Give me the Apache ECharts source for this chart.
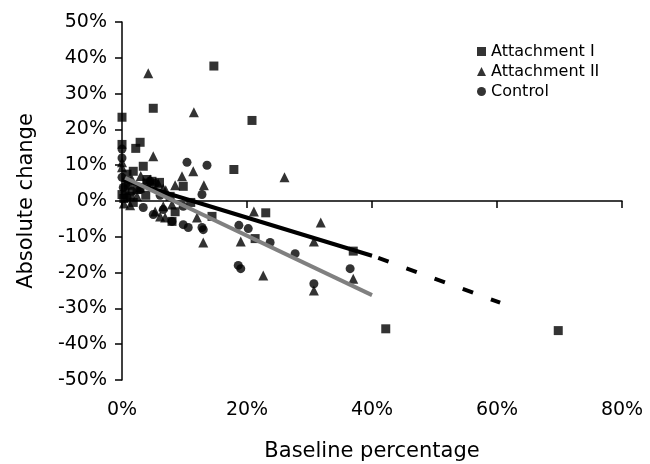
<!DOCTYPE html>
<html>
<head>
<meta charset="utf-8">
<script src="https://cdn.jsdelivr.net/npm/echarts@6/dist/echarts.min.js"></script>
<style>html,body{margin:0;padding:0;background:#fff;}#c{width:650px;height:464px;}</style>
</head>
<body>
<div id="c"></div>
<script>
var seriesNames = ['Attachment I', 'Attachment II', 'Control'];
var xTicks = [0, 20, 40, 60, 80];
var yTicks = [-50, -40, -30, -20, -10, 0, 10, 20, 30, 40, 50];

var attachmentI = [[0,23.4],[5,25.9],[0,15.8],[2.9,16.4],[2.2,14.7],[14.7,37.7],[20.8,22.5],[17.9,8.8],[14.4,-4.3],[23,-3.3],[21.3,-10.5],[37,-14],[42.2,-35.7],[69.8,-36.2],[9.8,4.1],[0.8,7.5],[1.8,8.3],[3.4,9.7],[4,6],[4.8,5.5],[6,5.2],[1,4.4],[2.4,3.2],[0,1.8],[0.3,0.7],[1.3,1.3],[3.8,1.6],[7.7,1.3],[8.5,-3],[1.8,-0.4],[8,-5.7],[11,-0.4],[4,5],[0.5,3]];
var attachmentII = [[4.2,35.7],[5,12.5],[11.5,24.8],[11.4,8.3],[9.6,6.9],[26,6.6],[13.1,4.4],[21.1,-2.9],[31.8,-6],[13,-11.6],[19,-11.3],[30.7,-11.3],[22.6,-20.8],[30.7,-25],[37,-21.7],[0,10.8],[0,9.4],[0.6,5.5],[1.6,6],[2.9,3.8],[4.5,6],[5.8,4.9],[6.6,3.5],[8.5,4.4],[0.3,-0.7],[1.3,-1.2],[2.4,1.3],[5.3,-2.9],[6.1,-4.3],[6.9,-4.6],[8,-1],[12,-4.6],[6.6,-1.5],[3,7],[7,3]];
var control = [[10.4,10.8],[13.6,10],[12.8,1.8],[13,-8],[18.7,-6.8],[20.2,-7.7],[23.7,-11.6],[27.7,-14.7],[18.6,-18],[19,-18.9],[30.7,-23.1],[36.5,-18.9],[0,14.5],[0,6.6],[0.2,3.8],[0.8,1],[2.9,3.2],[4.5,5.5],[5.3,4.9],[6.1,1.6],[3.4,-1.8],[5,-3.8],[6.6,-2.4],[9.8,-1.5],[9.8,-6.6],[10.6,-7.4],[12.8,-7.4],[8,-5.7],[1.6,2.7],[0,12]];

var trendBlack = [[0,6],[40,-15.3]];
var trendBlackExt = [[41,-15.9],[60.5,-28.4]];
var trendGray = [[0.5,6.5],[40,-26.3]];

var FONT = 'DejaVu Sans';
var chart = echarts.init(document.getElementById('c'));
var lineSeries = function (data, color, type) {
  return {type:'line', data:data, symbol:'none', silent:true, z:3,
    lineStyle:{color:color, width:4, type:type, cap:'butt'}};
};
chart.setOption({
  animation:false,
  backgroundColor:'#fff',
  textStyle:{fontFamily:FONT, color:'#000'},
  grid:{left:122, right:28, top:22, bottom:84, containLabel:false, outerBoundsMode:'none'},
  legend:{
    data:seriesNames, orient:'vertical', left:472, top:37, itemGap:1,
    itemWidth:9, itemHeight:9,
    textStyle:{fontFamily:FONT, fontSize:16, color:'#000', lineHeight:19}
  },
  xAxis:[{
    type:'value', min:xTicks[0], max:xTicks[xTicks.length-1], interval:20,
    axisLine:{onZero:true, lineStyle:{color:'#000', width:1.5}},
    axisTick:{show:true, inside:false, length:7, lineStyle:{color:'#000', width:1.5}},
    axisLabel:{show:false}, splitLine:{show:false}
  },{
    type:'value', position:'bottom', min:xTicks[0], max:xTicks[xTicks.length-1], interval:20,
    axisLine:{show:false, onZero:false}, axisTick:{show:false}, splitLine:{show:false},
    axisLabel:{show:true, margin:21, fontSize:19, color:'#000', fontFamily:FONT, formatter:'{value}%'},
    name:'Baseline percentage', nameLocation:'middle', nameGap:61,
    nameTextStyle:{fontSize:21, color:'#000', fontFamily:FONT}
  }],
  yAxis:{
    type:'value', min:yTicks[0], max:yTicks[yTicks.length-1], interval:10,
    axisLine:{show:true, onZero:false, lineStyle:{color:'#000', width:1.5}},
    axisTick:{show:true, length:7, lineStyle:{color:'#000', width:1.5}},
    axisLabel:{margin:15, fontSize:19, color:'#000', fontFamily:FONT, formatter:'{value}%'},
    splitLine:{show:false},
    name:'Absolute change', nameLocation:'middle', nameGap:85,
    nameTextStyle:{fontSize:21, color:'#000', fontFamily:FONT}
  },
  series:[
    {name:seriesNames[0], type:'scatter', symbol:'rect', symbolSize:9, data:attachmentI, itemStyle:{color:'#000'}},
    {name:seriesNames[1], type:'scatter', symbol:'triangle', symbolSize:10, data:attachmentII, itemStyle:{color:'#000'}},
    {name:seriesNames[2], type:'scatter', symbol:'circle', symbolSize:9, data:control, itemStyle:{color:'#000'}},
    lineSeries(trendBlack, '#000', 'solid'),
    lineSeries(trendBlackExt, '#000', [11,19]),
    lineSeries(trendGray, '#808080', 'solid')
  ]
});
</script>
</body>
</html>
